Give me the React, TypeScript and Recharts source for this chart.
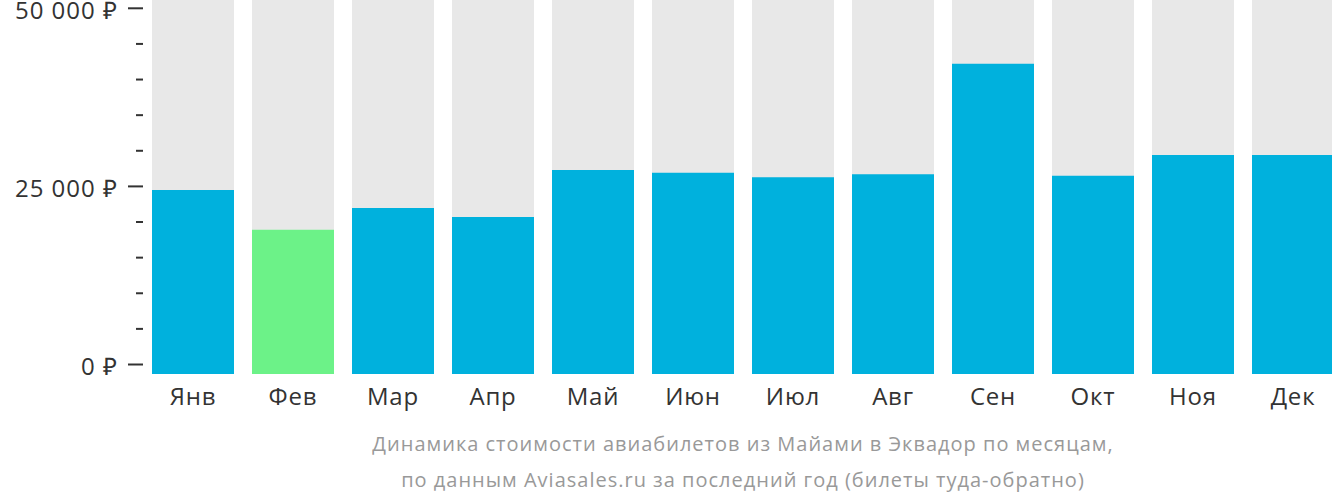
import { BarChart, Bar, XAxis, YAxis, Cell } from "recharts";

const MONTHS = ["Янв", "Фев", "Мар", "Апр", "Май", "Июн", "Июл", "Авг", "Сен", "Окт", "Ноя", "Дек"];
const PRICES = [24500, 18900, 21970, 20700, 27300, 26900, 26300, 26700, 42200, 26500, 29400, 29400];
const Y_TICKS = [0, 5000, 10000, 15000, 20000, 25000, 30000, 35000, 40000, 45000, 50000];
const MAJOR_TICKS = [0, 25000, 50000];
const Y_DOMAIN: [number, number] = [-1333, 51165];

const FONT = "'Open Sans', sans-serif";
const BLUE = "#00b1dd";
const GREEN = "#6cf288";
const GREY_BG = "#e8e8e8";

const data = MONTHS.map((month, i) => ({ month, price: PRICES[i] }));
const minPrice = Math.min(...PRICES);

const formatRub = (v: number) => String(v).replace(/\B(?=(\d{3})+(?!\d))/g, "\u00a0") + "\u00a0₽";

function YTick({ x, y, payload }: any) {
	const major = MAJOR_TICKS.includes(payload.value);
	return (
		<g>
			<line x1={x - (major ? 15 : 7)} x2={x} y1={y} y2={y} stroke="#333" strokeWidth={2} />
			{major && (
				<text
					x={x - 25}
					y={y}
					dy={1}
					textAnchor="end"
					dominantBaseline="central"
					fill="#333"
					fontSize={24}
					letterSpacing={1}
					fontFamily={FONT}
				>
					{formatRub(payload.value)}
				</text>
			)}
		</g>
	);
}

function XTick({ x, y, payload }: any) {
	return (
		<text
			x={x}
			y={y + 21}
			textAnchor="middle"
			dominantBaseline="central"
			fill="#333"
			fontSize={24}
			letterSpacing={0.8}
			fontFamily={FONT}
		>
			{payload.value}
		</text>
	);
}

export default function App() {
	return (
		<div style={{ position: "absolute", left: 0, top: 0, width: 1332, height: 502, overflow: "hidden" }}>
			<BarChart width={1343} height={502} data={data} margin={{ top: 0, right: 0, left: 0, bottom: 0 }}>
				<XAxis
					dataKey="month"
					height={128}
					tickLine={false}
					axisLine={false}
					tickSize={0}
					tickMargin={0}
					interval={0}
					tick={<XTick />}
				/>
				<YAxis
					type="number"
					width={143}
					domain={Y_DOMAIN}
					allowDataOverflow
					ticks={Y_TICKS}
					interval={0}
					tickLine={false}
					axisLine={false}
					tickSize={0}
					tickMargin={0}
					tick={<YTick />}
				/>
				<Bar
					dataKey={(d: any) => [Y_DOMAIN[0], d.price]}
					barSize={82}
					background={{ fill: GREY_BG }}
					isAnimationActive={false}
				>
					{data.map((d) => (
						<Cell key={d.month} fill={d.price === minPrice ? GREEN : BLUE} />
					))}
				</Bar>
			</BarChart>
			<div
				style={{
					position: "absolute",
					left: 143,
					top: 426,
					width: 1200,
					textAlign: "center",
					fontFamily: FONT,
					fontSize: 20,
					letterSpacing: 1,
					lineHeight: "36px",
					color: "#999",
				}}
			>
				Динамика стоимости авиабилетов из Майами в Эквадор по месяцам,
				<br />
				по данным Aviasales.ru за последний год (билеты туда-обратно)
			</div>
		</div>
	);
}
